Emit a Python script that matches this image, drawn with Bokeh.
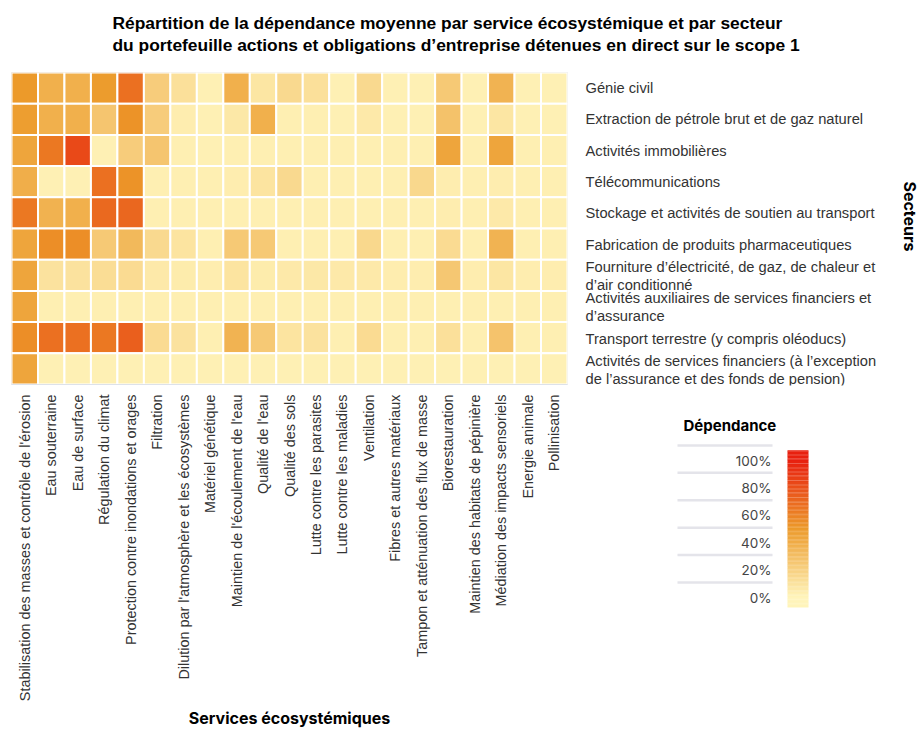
import numpy as np
from bokeh.plotting import figure
from bokeh.layouts import row, column
from bokeh.models import ColumnDataSource, LinearColorMapper, Range1d, FixedTicker
from bokeh.core.properties import value
from bokeh.embed import file_html
from bokeh.resources import INLINE

services = [
    "Stabilisation des masses et contrôle de l'érosion",
    "Eau souterraine",
    "Eau de surface",
    "Régulation du climat",
    "Protection contre inondations et orages",
    "Filtration",
    "Dilution par l'atmosphère et les écosystèmes",
    "Matériel génétique",
    "Maintien de l'écoulement de l'eau",
    "Qualité de l'eau",
    "Qualité des sols",
    "Lutte contre les parasites",
    "Lutte contre les maladies",
    "Ventilation",
    "Fibres et autres matériaux",
    "Tampon et atténuation des flux de masse",
    "Biorestauration",
    "Maintien des habitats de pépinière",
    "Médiation des impacts sensoriels",
    "Energie animale",
    "Pollinisation",
]

sectors = [
    "Génie civil",
    "Extraction de pétrole brut et de gaz naturel",
    "Activités immobilières",
    "Télécommunications",
    "Stockage et activités de soutien au transport",
    "Fabrication de produits pharmaceutiques",
    "Fourniture d’électricité, de gaz, de chaleur et\nd’air conditionné",
    "Activités auxiliaires de services financiers et\nd’assurance",
    "Transport terrestre (y compris oléoducs)",
    "Activités de services financiers (à l’exception\nde l’assurance et des fonds de pension)",
]

# dependency (%) per sector, one value per service (same order as services)
genie_civil     = [50, 38, 38, 49, 67, 22, 11, 2, 38, 8, 15, 11, 2, 15, 2, 2, 24, 2, 36, 2, 2]
extraction      = [48, 38, 38, 26, 53, 22, 4, 2, 7, 38, 3, 3, 2, 6, 2, 2, 28, 2, 8, 2, 2]
immobilier      = [44, 64, 83, 2, 22, 26, 3, 2, 3, 3, 3, 3, 3, 3, 3, 3, 44, 3, 44, 3, 3]
telecom         = [39, 2, 2, 67, 53, 3, 3, 3, 4, 9, 15, 3, 3, 3, 3, 16, 4, 3, 4, 3, 3]
stockage        = [64, 37, 38, 70, 71, 3, 3, 3, 3, 3, 3, 3, 3, 3, 3, 3, 4, 3, 6, 3, 3]
pharma          = [44, 55, 55, 24, 33, 15, 9, 3, 24, 24, 3, 3, 3, 16, 3, 3, 14, 3, 36, 3, 3]
electricite     = [44, 10, 10, 13, 14, 6, 5, 4, 9, 5, 6, 7, 6, 6, 4, 4, 25, 4, 8, 4, 4]
auxiliaires     = [44, 3, 3, 3, 3, 3, 3, 3, 3, 3, 3, 3, 3, 3, 3, 3, 3, 3, 3, 3, 3]
transport_terr  = [55, 67, 67, 64, 74, 14, 10, 3, 36, 24, 9, 10, 3, 14, 3, 3, 11, 3, 27, 3, 3]
financiers      = [44, 2, 2, 2, 2, 2, 2, 2, 2, 2, 2, 2, 2, 2, 2, 2, 2, 2, 2, 2, 2]

rows = [genie_civil, extraction, immobilier, telecom, stockage, pharma,
        electricite, auxiliaires, transport_terr, financiers]

legend_ticks = [0, 20, 40, 60, 80, 100]

# colour ramp
stops = [(0.0, "#FFF4BA"), (0.5, "#EC9A2A"), (1.0, "#E8200F")]
def hex2rgb(h):
    return tuple(int(h[i:i + 2], 16) for i in (1, 3, 5))
palette = []
for i in range(256):
    t = i / 255
    for (t0, c0), (t1, c1) in zip(stops[:-1], stops[1:]):
        if t0 <= t <= t1:
            f = (t - t0) / (t1 - t0)
            a, b = hex2rgb(c0), hex2rgb(c1)
            rgb = [round(a[k] + (b[k] - a[k]) * f) for k in range(3)]
            palette.append("#%02x%02x%02x" % tuple(rgb))
            break
mapper = LinearColorMapper(palette=palette, low=0, high=100)

n_sec, n_svc = len(sectors), len(services)
x_pos = [i + 0.5 for i in range(n_svc)]
y_pos = [n_sec - 1 - j + 0.5 for j in range(n_sec)]   # first sector on top

xs, ys, vals = [], [], []
for yj, row_vals in zip(y_pos, rows):
    for xi, v in zip(x_pos, row_vals):
        xs.append(xi)
        ys.append(yj)
        vals.append(v)
src = ColumnDataSource(dict(x=xs, y=ys, val=vals))

TOTAL_W = 918
TITLE_H = 60
BODY_H = 671
FRAME_TOP = 12
FRAME_H = 313

# ---------- title strip ----------
t_fig = figure(width=TOTAL_W, height=TITLE_H, x_range=Range1d(0, 1), y_range=Range1d(0, 1),
               x_axis_location=None, y_axis_location=None,
               output_backend="svg", toolbar_location=None,
               min_border_left=0, min_border_right=0, min_border_top=TITLE_H - 2, min_border_bottom=0)
t_fig.grid.visible = False
t_fig.outline_line_color = None
t_fig.title.text = ("Répartition de la dépendance moyenne par service écosystémique et par secteur\n"
                    "du portefeuille actions et obligations d’entreprise détenues en direct sur le scope 1")
t_fig.title.align = "left"
t_fig.title.offset = 112
t_fig.title.text_font = "Liberation Sans"
t_fig.title.text_font_size = "17.4px"
t_fig.title.text_font_style = "bold"
t_fig.title.text_color = "#000000"
t_fig.title.text_line_height = 1.12
t_fig.title.standoff = 6

# ---------- heatmap ----------
y_rng = Range1d(0, n_sec)
M_W = 570
p = figure(width=M_W, height=BODY_H,
           x_range=Range1d(0, n_svc), y_range=y_rng,
           y_axis_location=None,
           output_backend="svg", toolbar_location=None,
           min_border_left=11, min_border_right=3, min_border_top=FRAME_TOP,
           min_border_bottom=BODY_H - FRAME_TOP - FRAME_H)

p.rect(x="x", y="y", width=1, height=1, source=src,
       fill_color={"field": "val", "transform": mapper},
       line_color="white", line_width=2)
p.grid.visible = False
p.outline_line_color = "#E6E9EF"

xa = p.xaxis[0]
xa.ticker = FixedTicker(ticks=x_pos, minor_ticks=[])
xa.major_label_overrides = {x: s for x, s in zip(x_pos, services)}
xa.major_tick_line_color = None
xa.minor_tick_line_color = None
xa.axis_line_color = "#DDE2EA"
xa.major_label_orientation = np.pi / 2
xa.major_label_standoff = 4
xa.major_label_text_font = "Liberation Sans"
xa.major_label_text_font_size = "14.4px"
xa.major_label_text_color = "#333333"
xa.axis_label = "Services écosystémiques"
xa.axis_label_standoff = 4
xa.axis_label_text_font = "Inter"
xa.axis_label_text_font_style = "bold"
xa.axis_label_text_font_size = "16px"
xa.axis_label_text_color = "#000000"

# ---------- sector labels (same vertical frame and y range as the heatmap) ----------
R_W = TOTAL_W - M_W
R1_H = FRAME_TOP + FRAME_H + 13
r1 = figure(width=R_W, height=R1_H, x_range=Range1d(0, R_W), y_range=y_rng,
            x_axis_location=None, y_axis_location=None,
            output_backend="svg", toolbar_location=None,
            min_border_left=0, min_border_right=0, min_border_top=FRAME_TOP,
            min_border_bottom=R1_H - FRAME_TOP - FRAME_H)
r1.grid.visible = False
r1.outline_line_color = None
r1.text(x=15, y=y_pos, text=sectors, text_align="left", text_baseline="middle",
        text_font=value("Liberation Sans"), text_font_size="14.7px",
        text_color="#333333", text_line_height=1.12)
r1.text(x=[339], y=[n_sec / 2 + 0.4], text=["Secteurs"], angle=-np.pi / 2,
        text_align="center", text_baseline="middle",
        text_font=value("Inter"), text_font_style="bold", text_font_size="16px",
        text_color="#000000")

# ---------- colour-scale legend ----------
R2_H = BODY_H - R1_H
px_per_pct = 1.37
zero_from_bottom = 134          # pixels from the legend box bottom to the 0% label
lg_lo = -zero_from_bottom / px_per_pct
leg = figure(width=R_W, height=R2_H, x_range=Range1d(0, R_W),
             y_range=Range1d(lg_lo, lg_lo + R2_H / px_per_pct),
             x_axis_location=None, y_axis_location=None,
             output_backend="svg", toolbar_location=None,
             min_border_left=0, min_border_right=0, min_border_top=0, min_border_bottom=0)
leg.grid.visible = False
leg.outline_line_color = None

step = legend_ticks[1] - legend_ticks[0]
line_y = [t + step * 0.55 for t in legend_ticks]
leg.segment(x0=107, x1=202, y0=line_y, y1=line_y, line_color="#E4E4EA", line_width=2.5)
leg.text(x=201, y=legend_ticks, text=[f"{t}%" for t in legend_ticks],
         text_align="right", text_baseline="middle", text_font_size="13.5px",
         text_color="#444444", text_font=value("Inter"))

# gradient bar: thin stacked quads coloured through the same colour mapper
pad = step * 0.365
edges = np.linspace(legend_ticks[0] - pad, legend_ticks[-1] + pad, 121)
grad_src = ColumnDataSource(dict(bottom=edges[:-1], top=edges[1:] + 0.15,
                                 v=(edges[:-1] + edges[1:]) / 2))
leg.quad(left=217, right=238, bottom="bottom", top="top", source=grad_src,
         fill_color={"field": "v", "transform": mapper}, line_color=None)

leg.text(x=113, y=[legend_ticks[-1] + step * 1.28], text=["Dépendance"],
         text_align="left", text_baseline="middle", text_font_size="15px",
         text_font_style="bold", text_color="#000000", text_font=value("Inter"))

layout = column(t_fig, row(p, column(r1, leg)))

open("out.html", "w").write(file_html(layout, INLINE))
